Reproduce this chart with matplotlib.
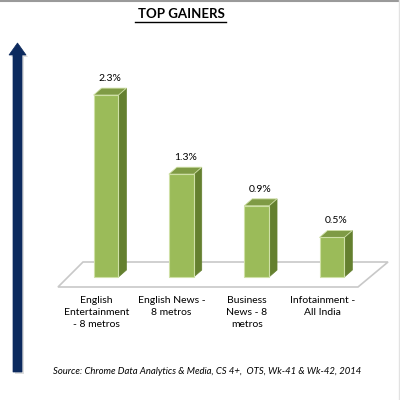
import matplotlib
matplotlib.use('Agg')
import matplotlib.pyplot as plt
from matplotlib.patches import Polygon, Rectangle, FancyArrow

# --- data ---
categories = ["English\nEntertainment\n- 8 metros", "English News -\n8 metros",
              "Business\nNews - 8\nmetros", "Infotainment -\nAll India"]
values = [2.3, 1.3, 0.9, 0.5]
value_labels = ["2.3%", "1.3%", "0.9%", "0.5%"]
title = "TOP GAINERS"
source = "Source: Chrome Data Analytics & Media, CS 4+,  OTS, Wk-41 & Wk-42, 2014"

# colours
FRONT = '#9bbb59'
SIDE = '#64802f'
TOP = '#7f9b45'
EDGE = '#cfe0a6'
NAVY = '#0c2a5e'

plt.rcParams['font.family'] = ['Lato', 'DejaVu Sans']

fig = plt.figure(figsize=(4, 4), dpi=100)
fig.patch.set_facecolor('white')

# pixel canvas for the decorations (y runs downwards)
deco = fig.add_axes([0, 0, 1, 1])
deco.set_xlim(0, 400)
deco.set_ylim(400, 0)
deco.axis('off')

# thin frame lines of the screenshot
deco.plot([0, 400], [0.8, 0.8], color='#9a9a9a', lw=1.5)
deco.plot([398.5, 398.5], [0, 400], color='#e2e2e2', lw=1)

# big navy arrow on the left with soft shadow
deco.add_patch(FancyArrow(19.5, 374, 0, -329, width=9, head_width=17, head_length=12,
                          length_includes_head=True, fc='#c8c8c8', ec='none', alpha=0.6))
deco.add_patch(FancyArrow(17.5, 372, 0, -329, width=9, head_width=17, head_length=12,
                          length_includes_head=True, fc=NAVY, ec=NAVY, lw=0.5))

# floor of the 3d chart
deco.add_patch(Polygon([(83, 262), (388, 262), (358, 287), (58, 287)], closed=True,
                       fc='white', ec='#c8c8c8', lw=1.2))

# title, underlined
deco.text(181, 14, title, ha='center', va='center', fontsize=9.5, fontweight='bold')
deco.plot([135, 226], [22, 22], color='black', lw=1)

# source note
deco.text(53, 372, source, ha='left', va='center', fontsize=6.85, style='italic')

# data axes for the bars
ax = fig.add_axes([0, 0, 1, 1])
ax.set_xlim(-1.408, 3.904)
ax.set_ylim(-1.555, 3.502)
ax.axis('off')

w, dx, dy = 0.33, 0.106, 0.088
for i, (v, lbl, cat) in enumerate(zip(values, value_labels, categories)):
    x0 = i - w / 2
    ax.add_patch(Polygon([(x0 + w, 0), (x0 + w + dx, dy), (x0 + w + dx, v + dy), (x0 + w, v)],
                         closed=True, fc=SIDE, ec=SIDE, lw=0.5))
    ax.add_patch(Polygon([(x0, v), (x0 + dx, v + dy), (x0 + w + dx, v + dy), (x0 + w, v)],
                         closed=True, fc=TOP, ec=EDGE, lw=0.6))
    ax.add_patch(Rectangle((x0, 0), w, v, fc=FRONT, ec=EDGE, lw=0.8))
    ax.annotate(lbl, (i + dx / 2, v + dy), xytext=(0, 7), textcoords='offset points',
                ha='center', va='center', fontsize=7.5)
    ax.annotate(cat, (i - 0.13, 0), xytext=(0, -14), textcoords='offset points',
                ha='center', va='top', fontsize=7.5, linespacing=1.39)

fig.savefig('out.png', dpi=100)
